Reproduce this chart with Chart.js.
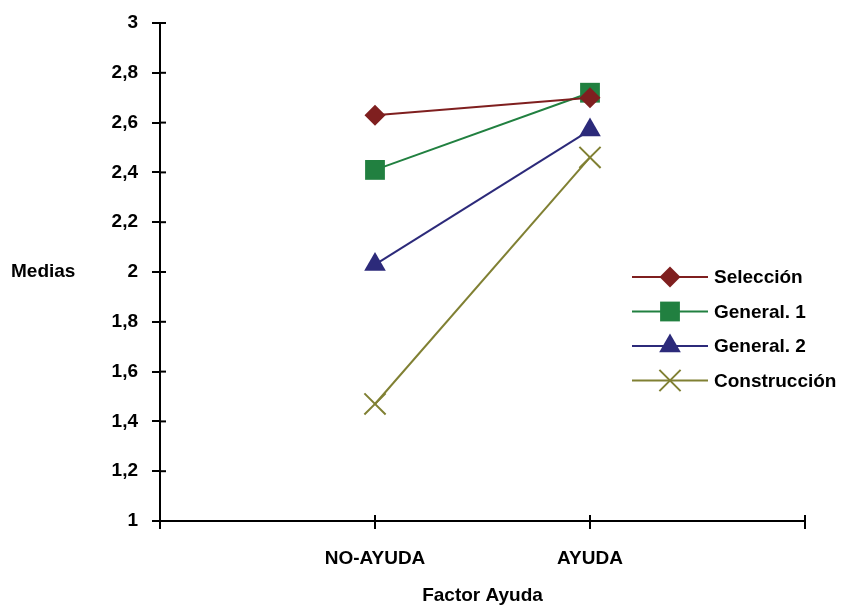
<!DOCTYPE html>
<html>
<head>
<meta charset="utf-8">
<script src="https://cdn.jsdelivr.net/npm/chart.js@4"></script>
<style>
  html, body { margin: 0; padding: 0; background: #fff; }
  #wrap { width: 847px; height: 607px; position: relative; }
</style>
</head>
<body>
<div id="wrap"><canvas id="myChart" width="847" height="607"></canvas></div>
<script>
// categories on the x axis
var categorias = ['NO-AYUDA', 'AYUDA'];
// series (medias)
var seleccion = [2.63, 2.70];
var general1 = [2.41, 2.72];
var general2 = [2.03, 2.57];
var construccion = [1.47, 2.46];
var yTicks = [1, 1.2, 1.4, 1.6, 1.8, 2, 2.2, 2.4, 2.6, 2.8, 3];

// empty slot at both ends so the categories sit on the inner ticks
var labels = [''].concat(categorias).concat(['']);
function pad(arr) { return [null].concat(arr).concat([null]); }

var series = [
    { label: 'Selección', data: seleccion, color: '#7f1f1f', style: 'rectRot', r: 10.5 },
    { label: 'General. 1', data: general1, color: '#218040', style: 'rect', r: 14 },
    { label: 'General. 2', data: general2, color: '#2c2a7a', style: 'triangle', r: 12.5 },
    { label: 'Construcción', data: construccion, color: '#808033', style: 'crossRot', r: 15 }
];

var datasets = [];
for (var i = 0; i < series.length; i++) {
    var s = series[i];
    datasets.push({
        label: s.label,
        data: pad(s.data),
        borderColor: s.color,
        backgroundColor: s.color,
        pointBackgroundColor: s.color,
        pointBorderColor: s.color,
        pointStyle: s.style,
        pointRadius: s.r,
        pointHoverRadius: s.r,
        pointBorderWidth: s.style == 'crossRot' ? 2 : 0,
        borderWidth: 2,
        fill: false,
        tension: 0
    });
}

var fontFamily = '"Liberation Sans", Arial, sans-serif';
var font = { family: fontFamily, size: 19, weight: 'bold' };

// ticks that cross the axis line + horizontal y title + custom legend
var extras = {
    id: 'extras',
    afterDraw: function (chart) {
        var ctx = chart.ctx;
        var a = chart.chartArea;
        ctx.save();
        ctx.strokeStyle = '#000';
        ctx.lineWidth = 2;
        // inner half of tick marks
        chart.scales.y.ticks.forEach(function (t) {
            var y = chart.scales.y.getPixelForValue(t.value);
            ctx.beginPath(); ctx.moveTo(a.left, y); ctx.lineTo(a.left + 6, y); ctx.stroke();
        });
        for (var k = 0; k < labels.length; k++) {
            var x = chart.scales.x.getPixelForValue(k);
            ctx.beginPath(); ctx.moveTo(x, a.bottom); ctx.lineTo(x, a.bottom - 6); ctx.stroke();
        }
        // y axis title, horizontal
        ctx.fillStyle = '#000';
        ctx.font = 'bold 19px ' + fontFamily;
        ctx.textAlign = 'left';
        ctx.textBaseline = 'middle';
        ctx.fillText('Medias', 11, chart.scales.y.getPixelForValue(2));

        // legend
        var lx = 632, ly = 277, step = 34.5;
        for (var j = 0; j < series.length; j++) {
            var s = series[j];
            var y = ly + j * step;
            ctx.strokeStyle = s.color;
            ctx.fillStyle = s.color;
            ctx.lineWidth = 2;
            ctx.beginPath(); ctx.moveTo(lx, y); ctx.lineTo(lx + 76, y); ctx.stroke();
            Chart.helpers.drawPoint(ctx, {
                pointStyle: s.style, radius: s.r, rotation: 0,
                borderWidth: s.style == 'crossRot' ? 2 : 0
            }, lx + 38, y);
            ctx.fillStyle = '#000';
            ctx.fillText(s.label, lx + 82, y + 1);
        }
        ctx.restore();
    }
};

window.onload = function () {
    var ctx = document.getElementById('myChart');
    window.myLine = new Chart(ctx, {
        type: 'line',
        data: { labels: labels, datasets: datasets },
        plugins: [extras],
        options: {
            responsive: false,
            animation: false,
            spanGaps: false,
            layout: { padding: { top: 23, right: 42, left: 0, bottom: 0 } },
            plugins: { legend: { display: false }, tooltip: { enabled: false } },
            scales: {
                x: {
                    offset: false,
                    grid: { drawOnChartArea: false, drawTicks: true, tickLength: 8, color: '#000', lineWidth: 2 },
                    border: { color: '#000', width: 2 },
                    ticks: { color: '#000', font: font, padding: 18, autoSkip: false, maxRotation: 0 },
                    title: { display: true, text: 'Factor Ayuda', color: '#000', font: font, padding: { top: 14, bottom: 0 } },
                    afterFit: function (scale) { scale.height = 607 - 521; }
                },
                y: {
                    min: 1,
                    max: 3,
                    afterBuildTicks: function (scale) {
                        scale.ticks = yTicks.map(function (v) { return { value: v }; });
                    },
                    grid: { drawOnChartArea: false, drawTicks: true, tickLength: 8, color: '#000', lineWidth: 2 },
                    border: { color: '#000', width: 2 },
                    ticks: {
                        color: '#000', font: font, padding: 14,
                        callback: function (v) { return String(Math.round(v * 10) / 10).replace('.', ','); }
                    },
                    afterFit: function (scale) {
                        scale.width = 160;
                        scale.paddingTop = 0;
                        scale.paddingBottom = 0;
                    }
                }
            }
        }
    });
};
</script>
</body>
</html>
